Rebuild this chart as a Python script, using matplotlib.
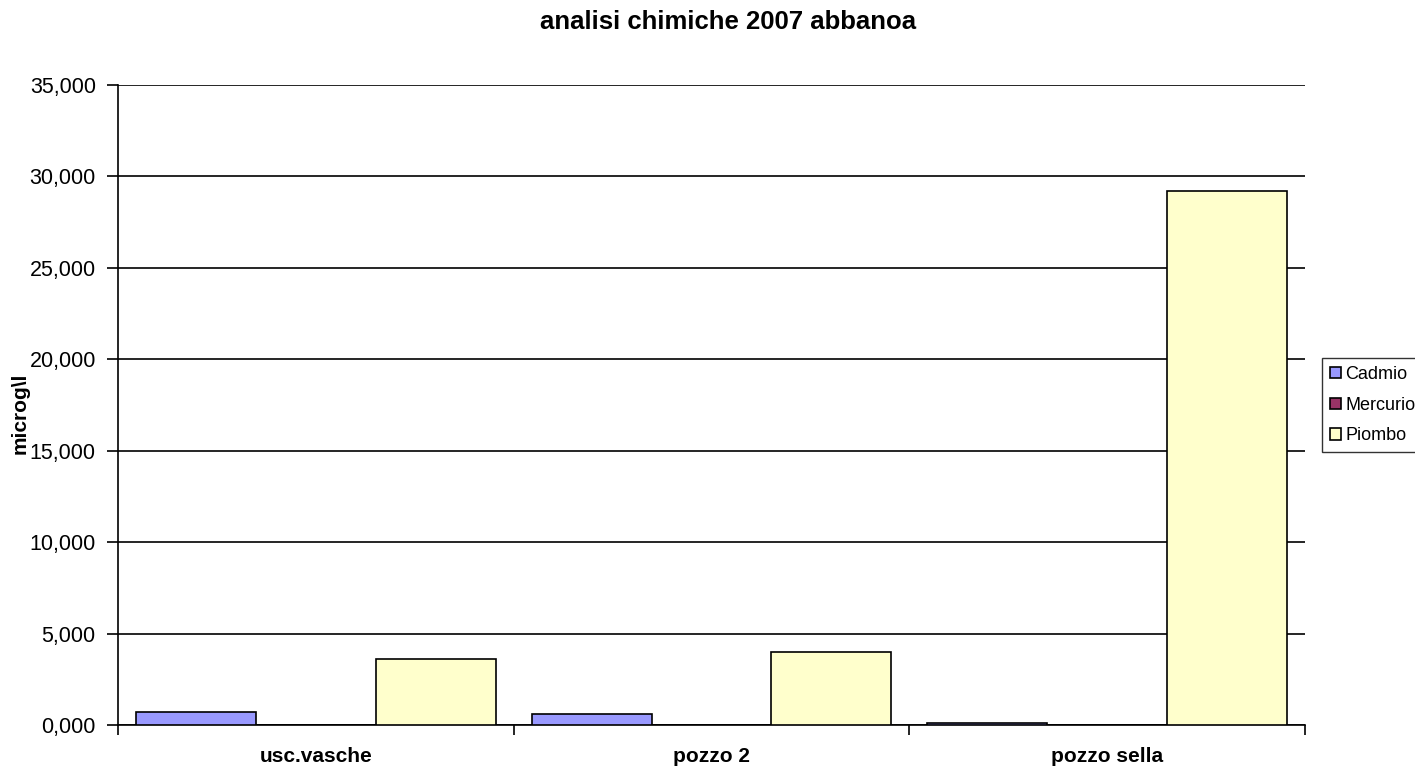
import matplotlib.pyplot as plt
import matplotlib.ticker as mticker
import numpy as np

plt.rcParams['font.family'] = ['Liberation Sans', 'DejaVu Sans']

categorie = ['usc.vasche', 'pozzo 2', 'pozzo sella']
cadmio = [0.7, 0.6, 0.1]
mercurio = [0.0, 0.0, 0.0]
piombo = [3.6, 4.0, 29.2]

serie = [('Cadmio', cadmio, '#9999FF'),
         ('Mercurio', mercurio, '#993366'),
         ('Piombo', piombo, '#FFFFCC')]

W, H = 1415, 770
fig = plt.figure(figsize=(W / 100, H / 100), dpi=100)
ax = fig.add_axes([118 / W, 45 / H, (1305 - 118) / W, (725 - 85) / H])

x = np.arange(len(categorie))
larghezza = 0.303
for i, (nome, valori, colore) in enumerate(serie):
    ax.bar(x + (i - 1) * larghezza, valori, larghezza, color=colore,
           edgecolor='black', linewidth=1.2, label=nome, zorder=3)

ax.set_xlim(-0.5, 2.5)
ax.set_ylim(0, 35)
ax.yaxis.set_major_locator(mticker.MultipleLocator(5))
ax.yaxis.set_major_formatter(mticker.FuncFormatter(lambda v, p: f'{v:.3f}'.replace('.', ',')))
ax.yaxis.grid(True, color='black', linewidth=1.2, zorder=0)

# etichette delle categorie al centro, tacche ai bordi dei gruppi
ax.set_xticks(x)
ax.set_xticklabels(categorie, fontsize=15, fontweight='bold')
ax.tick_params(axis='x', length=0, pad=16)
ax.set_xticks([0.5, 1.5, 2.5, -0.5], minor=True)
ax.tick_params(axis='x', which='minor', length=7, width=1.2, direction='out')
ax.tick_params(axis='y', labelsize=15.5, length=8, width=1.2, direction='out', pad=8)

for lato in ['top', 'right']:
    ax.spines[lato].set_visible(False)
ax.spines['left'].set_linewidth(1.2)
ax.spines['bottom'].set_linewidth(1.2)

fig.text(20 / W, 1 - 413 / H, 'microg\\l', rotation=90, fontsize=15,
         fontweight='bold', ha='center', va='center')
fig.text(728 / W, 1 - 22 / H, 'analisi chimiche 2007 abbanoa', fontsize=18.5,
         fontweight='bold', ha='center', va='center')

leg = ax.legend(loc='upper left', bbox_to_anchor=(1322 / W, 1 - 358 / H),
                bbox_transform=fig.transFigure, fontsize=13, frameon=True,
                fancybox=False, edgecolor='black', handlelength=0.6,
                handleheight=0.6, handletextpad=0.25, borderpad=0.45,
                labelspacing=0.75, borderaxespad=0)
leg.get_frame().set_linewidth(1.0)

fig.savefig('out.png', dpi=100)
